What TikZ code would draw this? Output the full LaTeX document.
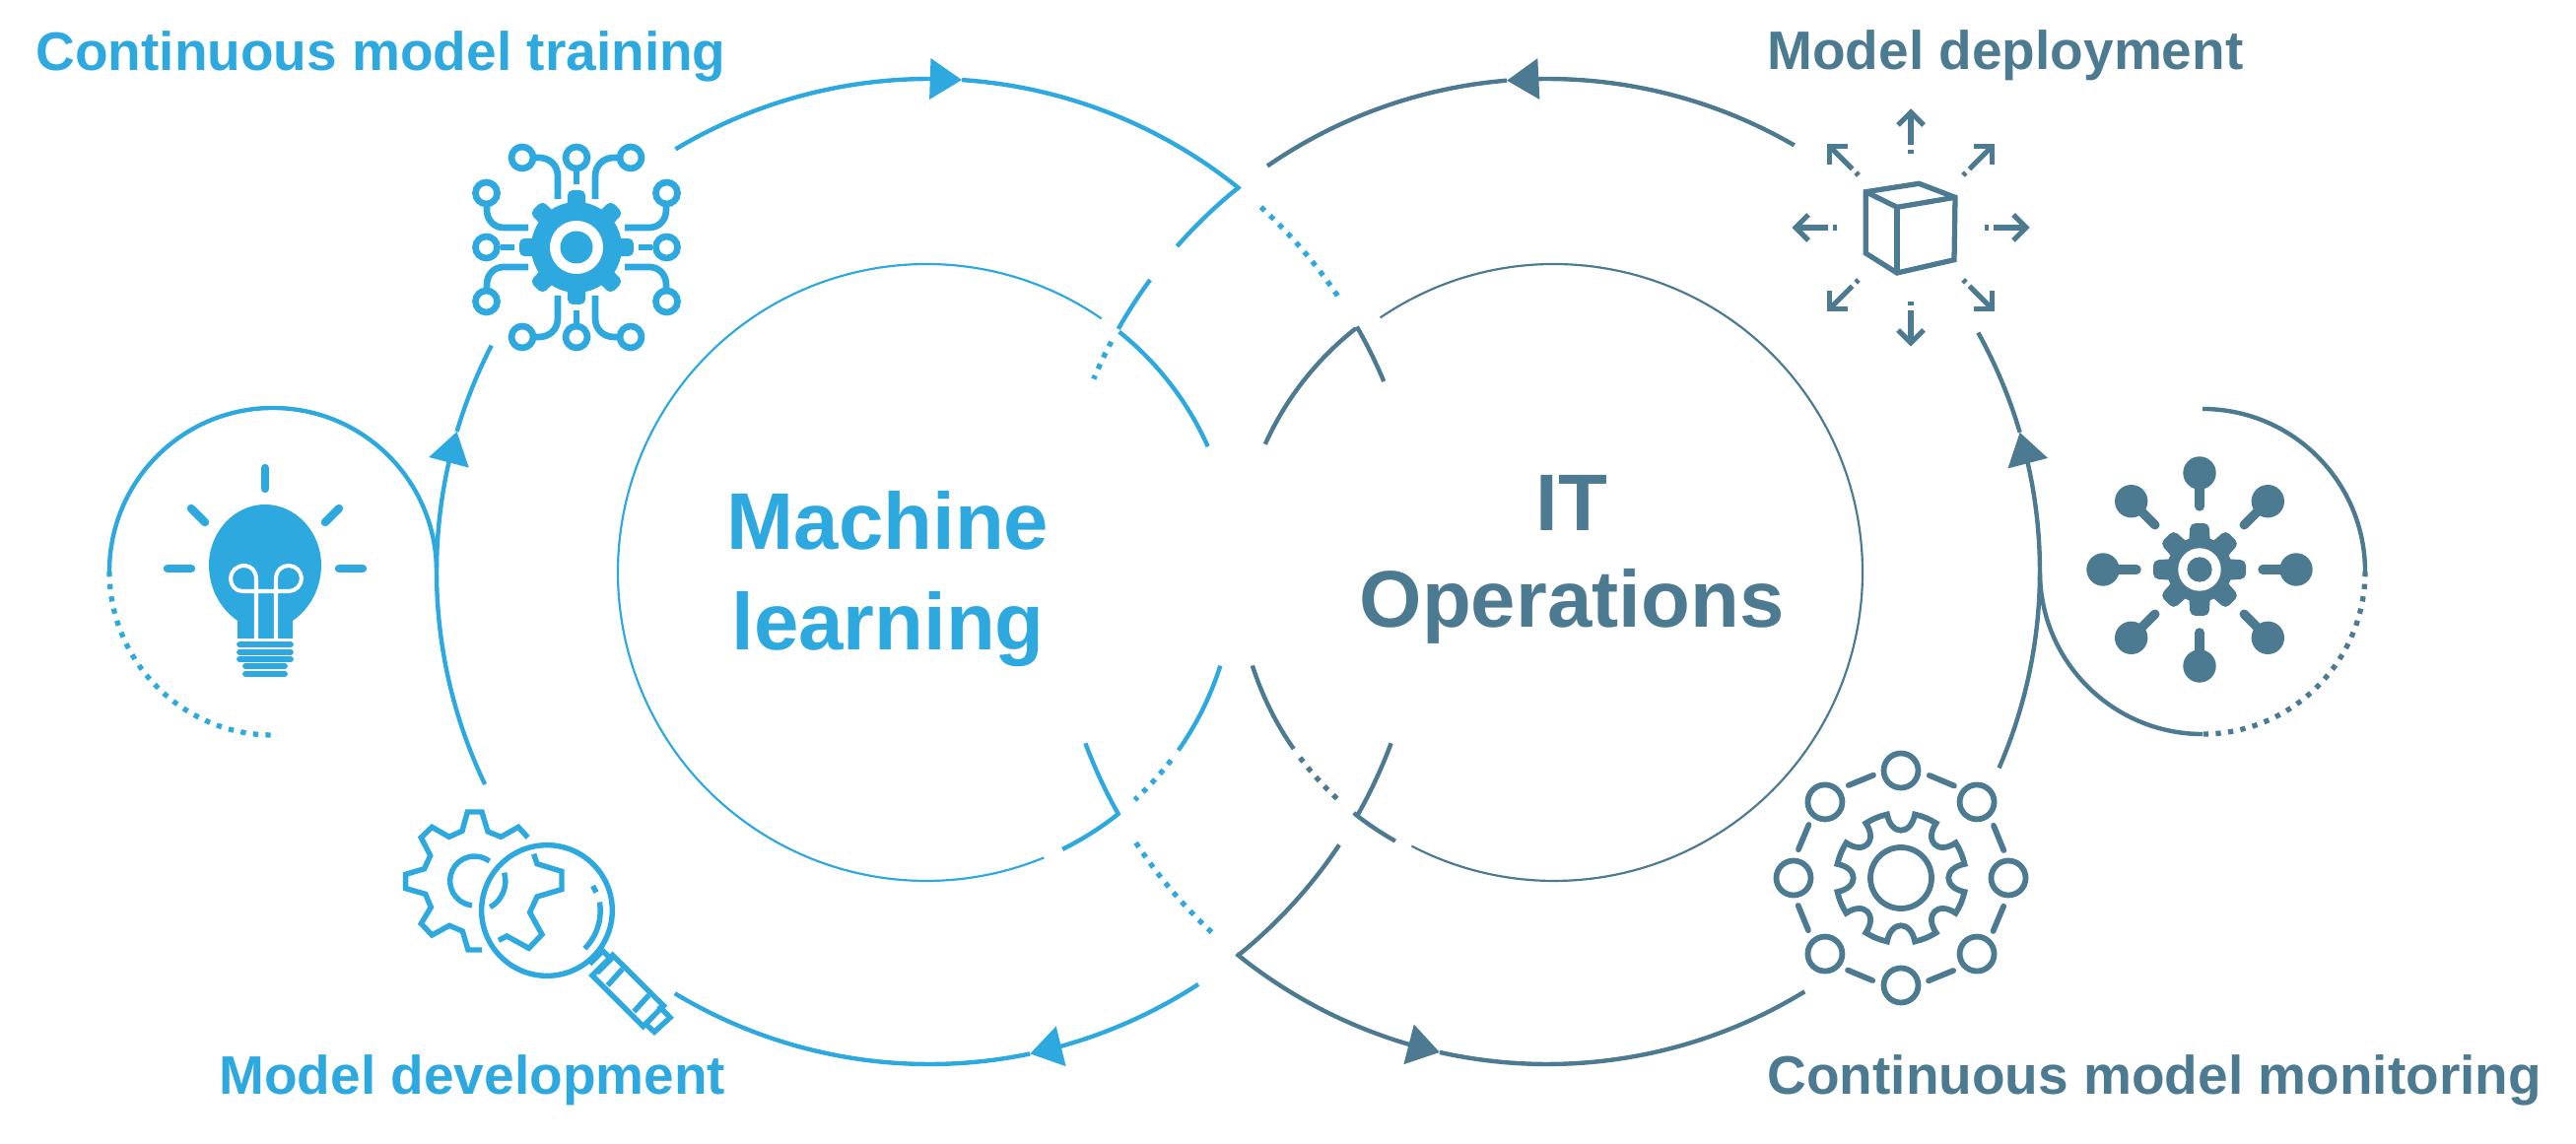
\documentclass[tikz,border=0pt]{standalone}
\usepackage{fontspec}
\setmainfont{Liberation Sans}
\usetikzlibrary{arrows.meta,bending}
\definecolor{mlblue}{HTML}{2EA9E0}
\definecolor{opsteal}{HTML}{4C7B91}
\begin{document}
\begin{tikzpicture}[x=0.01cm,y=0.01cm]
	\tikzset{ringline/.style = {line width=1.25pt}}
	\tikzset{thinline/.style = {line width=.62pt}}
	\tikzset{dotline/.style = {line width=1.5pt,dash pattern=on 1.5pt off 2.1pt}}
	\tikzset{tipline/.style = {line width=1.25pt,-{Triangle[length=9.2pt,width=11.6pt,flex]}}}
	\tikzset{sidelabel/.style = {anchor=base west,font=\bfseries\fontsize{15.65}{18}\selectfont}}
	\tikzset{biglabel/.style = {align=center,font=\bfseries\fontsize{23.2}{28}\selectfont}}
	\useasboundingbox (0,0) rectangle (2614,1160);
	\coordinate (outerL) at (943,580);
	\coordinate (outerR) at (1570,580);
	\coordinate (innerL) at (940,579);
	\coordinate (innerR) at (1577,579);
	\coordinate (loopL) at (277,580);
	\coordinate (loopR) at (2235,580);
	% blue rings
	\begin{scope}[mlblue]
		\foreach \ctr/\rad/\a/\b in {outerL/500/86.2/50.9,outerL/500/163.5/152.7,outerL/500/281.8/238.9,
			outerR/500/129/138.7,outerR/500/143.7/150.5,outerR/500/200.4/209.6,
			innerL/313/51.3/24.1,innerL/313/-17.6/-35.2,innerL/313/-51.2/-63.8,loopL/166/180/0}
			\draw[ringline] (\ctr) ++(\a:\rad) arc[start angle=\a,end angle=\b,radius=\rad];
		\foreach \ctr/\rad/\a/\b in {outerL/500/121/86.2,outerL/500/205.6/163.5,outerL/500/303.1/281.8}
			\draw[tipline] (\ctr) ++(\a:\rad) arc[start angle=\a,end angle=\b,radius=\rad];
		\foreach \ctr/\rad/\a/\b in {outerL/500/47.7/33.3,outerR/500/152.2/157,outerR/500/213.4/227.8,
			innerL/313/-37.5/-47.5,loopL/166/180/270}
			\draw[dotline] (\ctr) ++(\a:\rad) arc[start angle=\a,end angle=\b,radius=\rad];
		\draw[thinline] (innerL) ++(55.4:313) arc[start angle=55.4,end angle=292.4,radius=313];
	\end{scope}
	% teal rings
	\begin{scope}[opsteal]
		\foreach \ctr/\rad/\a/\b in {outerR/500/94.7/124.6,outerR/500/16.4/29,outerR/500/257.4/301.5,
			outerL/500/29.8/22.7,outerL/500/-29.9/-20.4,outerL/500/-33.7/-51.1,
			outerR/314/128.2/155.7,outerR/314/197.7/215,outerR/314/231.3/240.6,
			loopR/165/90/0,loopR/165/270/180}
			\draw[ringline] (\ctr) ++(\a:\rad) arc[start angle=\a,end angle=\b,radius=\rad];
		\foreach \ctr/\rad/\a/\b in {outerR/500/59.9/94.7,outerR/500/-23.5/16.4,outerR/500/230.9/257.4}
			\draw[tipline] (\ctr) ++(\a:\rad) arc[start angle=\a,end angle=\b,radius=\rad];
		\foreach \ctr/\rad/\a/\b in {outerR/314/217/227.2,loopR/165/0/-90}
			\draw[dotline] (\ctr) ++(\a:\rad) arc[start angle=\a,end angle=\b,radius=\rad];
		\draw[thinline] (innerR) ++(124.3:313) arc[start angle=124.3,end angle=-117.5,radius=313];
	\end{scope}
	% training icon
	\begin{scope}[shift={(585,909)},yscale=-1,mlblue,line width=1.9pt]
		\fill (0,0) circle[radius=46];
		\foreach \a in {0,45,...,315}
			\fill[rotate=\a,rounded corners=1.5pt] (30,-9.5) -- (58,-9) -- (58,9) -- (30,9.5) -- cycle;
		\fill[white] (0,0) circle[radius=27];
		\fill (0,0) circle[radius=16.5];
		\foreach \s in {1,-1} {
			\draw (0,{\s*78}) -- (0,{\s*64});
			\draw ({\s*77},0) -- ({\s*63},0);
			\draw (0,{\s*91}) circle[radius=11];
			\draw ({\s*91.5},0) circle[radius=11];
			\foreach \t in {1,-1} {
				\begin{scope}[xscale=\s,yscale=\t]
					\draw (19,49) -- (19,72) .. controls (19,84) and (28,91) .. (38,91) -- (45,91);
					\draw (49,20) -- (74,20) .. controls (84,20) and (91,28) .. (91,38) -- (91,45);
					\draw (55,91) circle[radius=11];
					\draw (91.5,55) circle[radius=11];
				\end{scope}
			}
		}
	\end{scope}
	% idea icon
	\begin{scope}[shift={(269,587)},yscale=-1,mlblue]
		\fill (0,-61) .. controls (32,-61) and (57,-32) .. (57,0) .. controls (57,25) and (45,45) .. (28,57)
			-- (28,75) -- (-28,75) -- (-28,57) .. controls (-45,45) and (-57,25) .. (-57,0)
			.. controls (-57,-32) and (-32,-61) .. (0,-61) -- cycle;
		\draw[white,line width=1.15pt] (-9,75) -- (-9,15) .. controls (-9,6) and (-15,1) .. (-21,1)
			.. controls (-29,1) and (-35,7) .. (-35,14) .. controls (-35,21) and (-30,27) .. (-23,27)
			-- (24,27) .. controls (31,27) and (37,21) .. (37,14) .. controls (37,7) and (31,1) .. (24,1)
			.. controls (17,1) and (11,6) .. (11,15) -- (11,75);
		\foreach \y/\w in {81/26,88.7/26,96/26,103/20,110.7/20}
			\draw[line width=1.65pt,line cap=round] (-\w,\y) -- (\w,\y);
		\draw[line width=2.4pt,line cap=round] (0,-98) -- (0,-77);
		\draw[line width=2.4pt,line cap=round] (-99,4) -- (-75,4);
		\draw[line width=2.4pt,line cap=round] (99,4) -- (75,4);
		\draw[line width=2.4pt,line cap=round] (-75,-57) -- (-61,-43);
		\draw[line width=2.4pt,line cap=round] (75,-57) -- (61,-43);
	\end{scope}
	% development icon
	\begin{scope}[shift={(390,360)},xscale=1/3,yscale=-1/3,mlblue,line width=1.55pt]
		\draw (437,150) -- (408,118) -- (355,148) -- (315,132) -- (297,72) -- (253,72) -- (237,130) -- (197,148)
			-- (145,118) -- (112,150) -- (140,205) -- (122,245) -- (65,262) -- (65,305) -- (125,322) -- (142,362)
			-- (112,412) -- (145,447) -- (198,418) -- (238,435) -- (255,492) -- (297,492);
		\draw (320,222) arc[start angle=-53,end angle=-264,radius=75];
		\draw (365,257) .. controls (378,300) and (355,345) .. (322,362);
		\draw (455,200) -- (465,230) -- (540,253) -- (540,308) -- (465,330) -- (443,378) -- (480,445) -- (440,487)
			-- (373,450) -- (348,463);
		\draw (495,372) circle[radius=199];
		\draw (610,488) arc[start angle=45,end angle=-9.6,radius=162];
		\draw (635,297) -- (645,317);
		\draw (625,535) -- (665,495) -- (690,520) -- (648,562);
		\draw (695,508) -- (850,662) -- (788,725) -- (633,570) -- cycle;
		\draw (725,550) -- (680,600);
		\draw (805,630) -- (760,680);
		\draw (835,662) -- (870,698) -- (822,742) -- (790,712);
	\end{scope}
	% deployment icon
	\begin{scope}[shift={(1939,929)},yscale=-1,opsteal,line width=1.5pt]
		\draw (-45.7,-36.3) -- (8.3,-44.7) -- (45,-30.7) -- (44,32.7) -- (-14,46) -- (-45.7,26) -- cycle;
		\draw (-45.7,-36.3) -- (-14,-20.7) -- (45,-30.7);
		\draw (-14,-20.7) -- (-14,46);
		\foreach \a in {0,45,...,315} {
			\draw[rotate=\a] (75,0) -- (79,0);
			\draw[rotate=\a] (84,0) -- (116,0);
			\draw[rotate=\a] (104,13) -- (117,0) -- (104,-13);
		}
	\end{scope}
	% monitoring icon
	\begin{scope}[shift={(1929,269)},opsteal,line width=1.65pt]
		\draw (0,0) circle[radius=31];
		\draw (12.3:66) \foreach \k in {0,...,7} {
			arc[start angle={\k*45+12.3},end angle={\k*45+32.7},radius=66]
			.. controls ({\k*45+32}:44) and ({\k*45+58}:44) .. ({\k*45+57.3}:66)
		} -- cycle;
		\foreach \a in {0,45,...,315} {
			\draw (\a:109) circle[radius=17.5];
			\draw[line cap=round] ({\a+15}:108) -- ({\a+29.5}:108);
		}
	\end{scope}
	% side loop icon
	\begin{scope}[shift={(2232,582)},opsteal]
		\fill (0,0) circle[radius=33];
		\foreach \a in {0,45,...,315} {
			\fill[rotate=\a,rounded corners=1.5pt] (25,-11) -- (47,-9.5) -- (47,9.5) -- (25,11) -- cycle;
			\fill (\a:98) circle[radius=16.7];
			\draw[line width=2.7pt,line cap=round] (\a:64) -- (\a:90);
		}
		\fill[white] (0,0) circle[radius=21.7];
		\fill (0,0) circle[radius=12.7];
	\end{scope}
	% labels
	\node[sidelabel,text=mlblue] (traininglabel) at (24,1088) {Continuous model training};
	\node[sidelabel,text=mlblue] (developmentlabel) at (210,50) {Model development};
	\node[sidelabel,text=opsteal] (deploymentlabel) at (1781,1089) {Model deployment};
	\node[sidelabel,text=opsteal] (monitoringlabel) at (1781,50) {Continuous model monitoring};
	\node[biglabel,text=mlblue] (mlnode) at (901,572) {Machine\\[1pt]learning};
	\node[biglabel,text=opsteal] (itnode) at (1595,592) {IT\\Operations};
\end{tikzpicture}
\end{document}
